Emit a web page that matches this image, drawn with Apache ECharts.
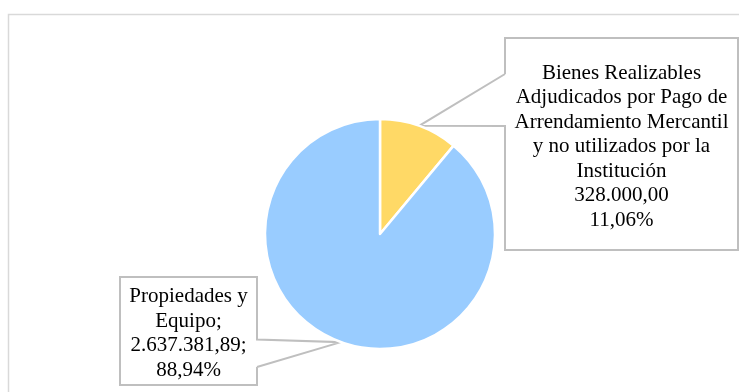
<!DOCTYPE html>
<html>
<head>
<meta charset="utf-8">
<script src="https://cdn.jsdelivr.net/npm/echarts@6/dist/echarts.min.js"></script>
<style>
  html, body { margin: 0; padding: 0; background: #ffffff; }
  #chart { width: 739px; height: 392px; }
</style>
</head>
<body>
<div id="chart"></div>
<script>
// Slice names (with their display line breaks), amounts and colours
const categories = [
  'Bienes Realizables\nAdjudicados por Pago de\nArrendamiento Mercantil\ny no utilizados por la\nInstitución',
  'Propiedades y\nEquipo'
];
const values = [328000.00, 2637381.89];
const sliceColors = ['#FFD966', '#99CCFF'];
// Separator placed between name, amount and percentage in each label
const labelSeparators = ['\n', ';\n'];

// Callout boxes: rectangle, side the pointer leaves from, and the opening on that side
const callouts = [
  { left: 505, top: 38, right: 738, bottom: 250, side: 'left', gapA: 74, gapB: 126, textY: 146.5 },
  { left: 120, top: 277, right: 257, bottom: 385, side: 'right', gapA: 339.5, gapB: 367, textY: 333.5 }
];

function formatAmount(v) {
  const parts = v.toFixed(2).split('.');
  const intPart = parts[0].replace(/\B(?=(\d{3})+(?!\d))/g, '.');
  return intPart + ',' + parts[1];
}

function calloutOutline(c, tip) {
  const L = c.left, R = c.right, T = c.top, B = c.bottom;
  if (c.side === 'left') {
    return [[L, c.gapA], [L, T], [R, T], [R, B], [L, B], [L, c.gapB], tip, [L, c.gapA]];
  }
  return [[R, c.gapB], [R, B], [L, B], [L, T], [R, T], [R, c.gapA], tip, [R, c.gapB]];
}

const chart = echarts.init(document.getElementById('chart'), null, { renderer: 'canvas' });

const option = {
  backgroundColor: '#ffffff',
  animation: false,
  graphic: [{
    type: 'rect',
    silent: true,
    z: -10,
    shape: { x: 8.5, y: 14.5, width: 1000, height: 1000 },
    style: { fill: 'none', stroke: '#d9d9d9', lineWidth: 1.5 }
  }],
  series: [{
    type: 'pie',
    center: [380, 234],
    radius: 115,
    startAngle: 90,
    clockwise: true,
    avoidLabelOverlap: false,
    itemStyle: { borderColor: '#ffffff', borderWidth: 2.5 },
    label: {
      show: true,
      position: 'outside',
      color: '#000000',
      fontFamily: '"Liberation Serif", "Times New Roman", serif',
      fontSize: 21,
      lineHeight: 24.5,
      align: 'center',
      formatter: function (p) {
        const sep = labelSeparators[p.dataIndex];
        return p.name + sep + formatAmount(p.value) + sep + p.percent.toFixed(2).replace('.', ',') + '%';
      }
    },
    labelLine: {
      show: true,
      smooth: false,
      lineStyle: { color: '#bfbfbf', width: 2 }
    },
    labelLayout: function (p) {
      const c = callouts[p.dataIndex];
      const tip = p.labelLinePoints ? p.labelLinePoints[0] : [380, 234];
      return {
        x: (c.left + c.right) / 2,
        y: c.textY,
        align: 'center',
        verticalAlign: 'middle',
        labelLinePoints: calloutOutline(c, tip)
      };
    },
    data: categories.map(function (name, i) {
      return { name: name, value: values[i], itemStyle: { color: sliceColors[i] } };
    })
  }]
};

chart.setOption(option);
</script>
</body>
</html>
